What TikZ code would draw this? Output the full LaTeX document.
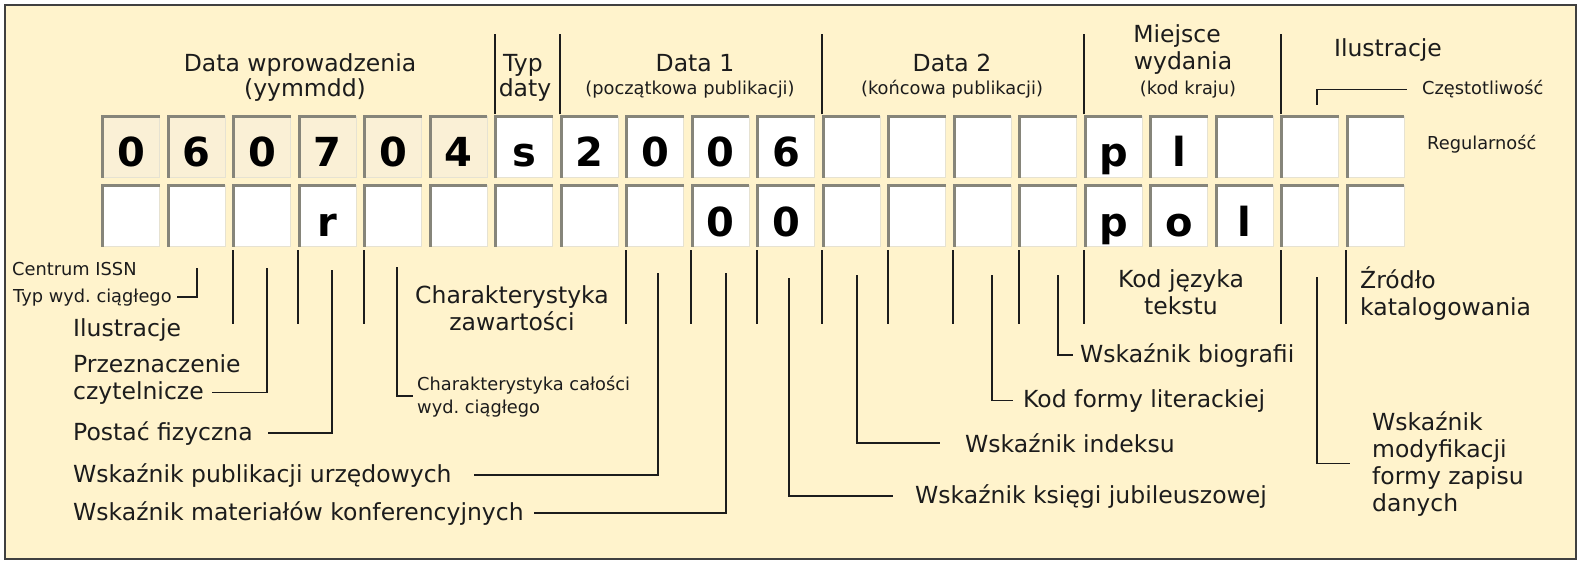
\documentclass[tikz,border=0pt]{standalone}
\usepackage{fontspec}
\setmainfont{DejaVu Sans}
\frenchspacing
\definecolor{panel}{HTML}{FFF3CC}
\definecolor{cellbeige}{HTML}{FAF0D6}
\definecolor{rimgray}{HTML}{86857A}
\definecolor{rimlight}{HTML}{E6E2D2}
\definecolor{ink}{HTML}{1C1C1C}
\newcommand{\lblfont}{\fontsize{23.5}{27}\selectfont}
\newcommand{\slblfont}{\fontsize{17.8}{23}\selectfont}
\tikzset{
  cell/.style={minimum width=56.5pt,minimum height=61pt,inner sep=0pt,
    text height=44pt,text depth=4pt,font=\fontsize{40}{40}\selectfont\bfseries},
  rim/.style={rimgray,line width=3pt},
  rimlite/.style={rimlight,line width=1pt},
  lead/.style={ink,line width=1.8pt},
  lbl/.style={inner sep=0pt,text=ink,font=\lblfont},
  slbl/.style={inner sep=0pt,text=ink,font=\slblfont},
}

\begin{document}
\begin{tikzpicture}[x=1pt,y=-1pt]
  \useasboundingbox (0,0) rectangle (1586,564);
  \fill[white] (0,0) rectangle (1586,564);
  \draw[fill=panel,draw=black!75,line width=2pt] (5,5) rectangle (1576,559);

  % two rows of cells
  \foreach \ch/\fc [count=\i from 0] in {0/cellbeige,6/cellbeige,0/cellbeige,
      7/cellbeige,0/cellbeige,4/cellbeige,s/white,2/white,0/white,0/white,6/white,
      {}/white,{}/white,{}/white,{}/white,p/white,l/white,{}/white,{}/white,{}/white}
    \node[cell,fill=\fc] (t\i) at ({131.25+65.5*\i},147) {\ch};
  \foreach \ch [count=\i from 0] in {{},{},{},r,{},{},{},{},{},0,0,{},{},{},{},p,o,l,{},{}}
    \node[cell,fill=white] (b\i) at ({131.25+65.5*\i},216) {\ch};
  \foreach \r in {t,b}{\foreach \i in {0,...,19}{
    \draw[rimlite] (\r\i.north east) -- (\r\i.south east) -- (\r\i.south west);
    \draw[rim] (\r\i.south west) -- (\r\i.north west) -- (\r\i.north east);
  }}

  % field separators
  \foreach \i in {6,7,11,15,18}
    \draw[lead] ([xshift=-1pt,yshift=2pt]t\i.north west) -- ++(0,-80);
  \foreach \i in {2,3,4,8,9,10,11,12,13,14,15,18,19}
    \draw[lead] ([xshift=-1pt,yshift=-3.5pt]b\i.south west) -- ++(0,74);

  % headings
  \node[lbl,anchor=base] (hDat) at (300,72) {Data wprowadzenia};
  \node[lbl,anchor=base] (hYmd) at (305,97) {(yymmdd)};
  \node[lbl,anchor=base] (hTyp) at (523,72) {Typ};
  \node[lbl,anchor=base] (hDaty) at (525,97) {daty};
  \node[lbl,anchor=base] (hD1) at (695,72) {Data 1};
  \node[slbl,anchor=base] (hD1s) at (690,95) {(początkowa publikacji)};
  \node[lbl,anchor=base] (hD2) at (952,72) {Data 2};
  \node[slbl,anchor=base] (hD2s) at (952,95) {(końcowa publikacji)};
  \node[lbl,anchor=base] (hMie) at (1177,43) {Miejsce};
  \node[lbl,anchor=base] (hWyd) at (1183,70) {wydania};
  \node[slbl,anchor=base] (hKra) at (1188,95) {(kod kraju)};
  \node[lbl,anchor=base] (hIlu) at (1388,57) {Ilustracje};
  \node[slbl,anchor=base west] (lCze) at (1422,95) {Częstotliwość};
  \node[slbl,anchor=base west] (lReg) at (1427,150) {Regularność};

  % labels under the cells (multi-line ones sit on their last line)
  \node[slbl,anchor=base west] (lCen) at (12,275) {Centrum ISSN};
  \node[slbl,anchor=base west] (lTyp) at (13,302) {Typ wyd. ciągłego};
  \node[lbl,anchor=base west] (lIlu) at (73,336) {Ilustracje};
  \node[lbl,anchor=base west] (lPrz) at (73,372) {Przeznaczenie};
  \node[lbl,anchor=base west] (lCzy) at (73,399) {czytelnicze};
  \node[lbl,anchor=base west] (lPos) at (73,440) {Postać fizyczna};
  \node[lbl,anchor=base west] (lUrz) at (73,482) {Wskaźnik publikacji urzędowych};
  \node[lbl,anchor=base west] (lKonf) at (73,520) {Wskaźnik materiałów konferencyjnych};
  \node[lbl,anchor=base,align=center] (lZaw) at (512,330) {Charakterystyka\\zawartości};
  \node[slbl,anchor=base west,align=left] (lCal) at (417,413) {Charakterystyka całości\\wyd. ciągłego};
  \node[lbl,anchor=base west] (lKsi) at (915,503) {Wskaźnik księgi jubileuszowej};
  \node[lbl,anchor=base west] (lInd) at (965,452) {Wskaźnik indeksu};
  \node[lbl,anchor=base west] (lLit) at (1023,407) {Kod formy literackiej};
  \node[lbl,anchor=base west] (lBio) at (1080,362) {Wskaźnik biografii};
  \node[lbl,anchor=base,align=center] (lJez) at (1181,314) {Kod języka\\tekstu};
  \node[lbl,anchor=base west,align=left] (lZro) at (1360,315) {Źródło\\katalogowania};
  \node[lbl,anchor=base west,align=left] (lMod) at (1372,511) {Wskaźnik\\modyfikacji\\formy zapisu\\danych};

  % leader lines
  \coordinate (cCze) at (1317,105);
  \coordinate (cTyp) at (197,268);
  \coordinate (cPrz) at (267,268);
  \coordinate (cPos) at (332,270);
  \coordinate (cCal) at (397,267);
  \coordinate (cUrz) at (658,273);
  \coordinate (cKonf) at (726,273);
  \coordinate (cKsi) at (789,278);
  \coordinate (cInd) at (857,275);
  \coordinate (cLit) at (992,275);
  \coordinate (cBio) at (1058,275);
  \coordinate (cMod) at (1317,277);
  \draw[lead,shorten >=15pt] (cCze) |- (lCze.west);
  \draw[lead,shorten >=5pt] (cTyp) |- (lTyp.east);
  \draw[lead,shorten >=8pt] (cPrz) |- (lCzy.east);
  \draw[lead,shorten >=15pt] (cPos) |- (lPos.east);
  \draw[lead,shorten >=4pt] (cCal) |- (lCal.west);
  \draw[lead,shorten >=22pt] (cUrz) |- (lUrz.east);
  \draw[lead,shorten >=10pt] (cKonf) |- (lKonf.east);
  \draw[lead,shorten >=22pt] (cKsi) |- (lKsi.west);
  \draw[lead,shorten >=25pt] (cInd) |- (lInd.west);
  \draw[lead,shorten >=10pt] (cLit) |- (lLit.west);
  \draw[lead,shorten >=7pt] (cBio) |- (lBio.west);
  \draw[lead,shorten >=22pt] (cMod) |- (lMod.west);
\end{tikzpicture}
\end{document}
